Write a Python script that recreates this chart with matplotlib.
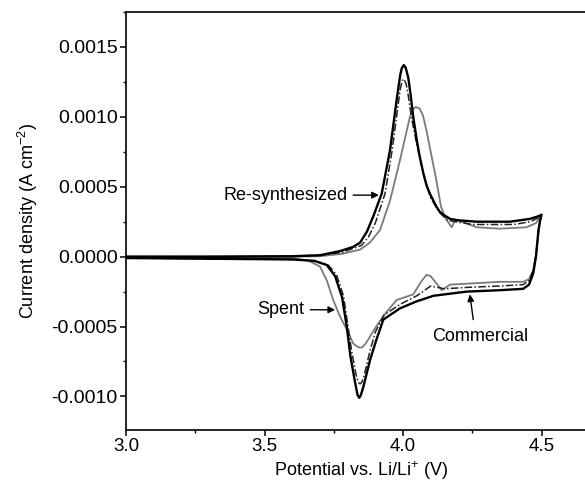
import matplotlib
matplotlib.use("Agg")
import matplotlib.pyplot as plt
from matplotlib.ticker import MultipleLocator, FormatStrFormatter

plt.rcParams['font.family'] = ['Liberation Sans', 'DejaVu Sans']
plt.rcParams['mathtext.default'] = 'regular'
plt.rcParams['axes.unicode_minus'] = False

# ---- data (potential V, current density A cm^-2) ----
# Re-synthesized: anodic sweep then cathodic sweep
resyn_an_v = [3.0, 3.3, 3.6, 3.7, 3.773, 3.82, 3.845, 3.87, 3.893, 3.923, 3.953, 3.977, 3.99, 3.996, 4.003, 4.01, 4.019, 4.028, 4.037, 4.05, 4.06, 4.073, 4.085, 4.097, 4.11, 4.12, 4.133, 4.146, 4.17, 4.2, 4.266, 4.386, 4.458, 4.49, 4.5]
resyn_an_j = [0.0, 0.0, 0.000003, 0.00001, 0.00004, 0.00007, 0.0001, 0.00018, 0.00029, 0.00045, 0.00076, 0.00112, 0.0013, 0.00135, 0.00137, 0.00135, 0.00128, 0.00115, 0.001, 0.00083, 0.00072, 0.0006, 0.00051, 0.00045, 0.0004, 0.00036, 0.00032, 0.0003, 0.00027, 0.00026, 0.00025, 0.00025, 0.00027, 0.00029, 0.0003]
resyn_ca_v = [4.5, 4.495, 4.489, 4.48, 4.47, 4.455, 4.434, 4.35, 4.23, 4.11, 4.049, 3.989, 3.929, 3.903, 3.881, 3.857, 3.848, 3.842, 3.836, 3.827, 3.81, 3.797, 3.78, 3.755, 3.725, 3.68, 3.6, 3.3, 3.0]
resyn_ca_j = [0.0003, 0.00026, 0.00019, 0.0, -0.00012, -0.0002, -0.00023, -0.00024, -0.00025, -0.00028, -0.00032, -0.00037, -0.00045, -0.0006, -0.00074, -0.00093, -0.00099, -0.00101, -0.00099, -0.0009, -0.00071, -0.0005, -0.00029, -0.00014, -0.00006, -0.00003, -0.00002, -0.000015, -0.00001]

# Commercial
comm_an_v = [3.0, 3.3, 3.6, 3.7, 3.78, 3.85, 3.875, 3.9, 3.935, 3.96, 3.98, 3.99, 3.997, 4.004, 4.012, 4.02, 4.03, 4.05, 4.075, 4.1, 4.13, 4.16, 4.25, 4.4, 4.46, 4.49, 4.5]
comm_an_j = [0.0, 0.0, 0.000003, 0.00001, 0.00003, 0.00008, 0.00014, 0.00024, 0.00045, 0.00075, 0.00105, 0.0012, 0.00126, 0.00127, 0.00123, 0.00114, 0.001, 0.0008, 0.00058, 0.00042, 0.00032, 0.00026, 0.00023, 0.00023, 0.00025, 0.00028, 0.0003]
comm_ca_v = [4.5, 4.495, 4.49, 4.48, 4.47, 4.455, 4.434, 4.35, 4.23, 4.15, 4.1, 4.05, 3.99, 3.93, 3.9, 3.88, 3.86, 3.851, 3.845, 3.839, 3.83, 3.815, 3.8, 3.785, 3.76, 3.73, 3.68, 3.6, 3.0]
comm_ca_j = [0.0003, 0.00026, 0.0002, 0.00001, -0.0001, -0.00017, -0.0002, -0.00021, -0.00022, -0.00023, -0.00021, -0.00028, -0.00034, -0.00042, -0.00054, -0.00068, -0.00085, -0.0009, -0.00091, -0.0009, -0.00084, -0.00068, -0.00048, -0.00028, -0.00013, -0.00006, -0.00003, -0.00002, -0.00001]

# Spent
spent_an_v = [3.0, 3.3, 3.6, 3.7, 3.78, 3.845, 3.88, 3.917, 3.953, 3.989, 4.025, 4.035, 4.045, 4.06, 4.072, 4.085, 4.101, 4.12, 4.137, 4.15, 4.165, 4.176, 4.185, 4.2, 4.266, 4.35, 4.446, 4.48, 4.5]
spent_an_j = [0.0, 0.0, 0.0, 0.000003, 0.00002, 0.00005, 0.0001, 0.00019, 0.0004, 0.00069, 0.001, 0.00105, 0.00107, 0.00106, 0.00101, 0.0009, 0.00074, 0.00055, 0.00036, 0.00029, 0.00024, 0.00021, 0.00025, 0.00026, 0.00021, 0.0002, 0.00021, 0.00024, 0.0003]
spent_ca_v = [4.5, 4.495, 4.49, 4.48, 4.47, 4.455, 4.434, 4.35, 4.17, 4.14, 4.12, 4.1, 4.085, 4.065, 4.037, 3.977, 3.939, 3.903, 3.866, 3.852, 3.842, 3.832, 3.82, 3.797, 3.773, 3.748, 3.725, 3.70, 3.66, 3.6, 3.0]
spent_ca_j = [0.0003, 0.00026, 0.00019, 0.00001, -0.0001, -0.00016, -0.00018, -0.00018, -0.0002, -0.00024, -0.00019, -0.00014, -0.00013, -0.00018, -0.00027, -0.00031, -0.0004, -0.0005, -0.00062, -0.00065, -0.00065, -0.00064, -0.00062, -0.00052, -0.00043, -0.00031, -0.00017, -0.00007, -0.00003, -0.00001, -0.00001]

x_ticks = [3.0, 3.5, 4.0, 4.5]
y_ticks = [-0.0010, -0.0005, 0.0, 0.0005, 0.0010, 0.0015]

fig = plt.figure(figsize=(5.85, 4.86), dpi=100)
ax = fig.add_axes([126/585, 56/486, 1.7*277/585, 418/486])

ax.plot(spent_an_v + spent_ca_v, spent_an_j + spent_ca_j, color='#7a7a7a', lw=1.3)
ax.plot(comm_an_v + comm_ca_v, comm_an_j + comm_ca_j, color='#222222', lw=1.1,
        linestyle=(0, (5, 1.5, 1, 1.5)))
ax.plot(resyn_an_v + resyn_ca_v, resyn_an_j + resyn_ca_j, color='black', lw=1.7)

ax.set_xlim(3.0, 4.7)
ax.set_ylim(-0.00124, 0.00175)
ax.set_xticks(x_ticks)
ax.set_yticks(y_ticks)
ax.xaxis.set_minor_locator(MultipleLocator(0.25))
ax.yaxis.set_minor_locator(MultipleLocator(0.00025))
ax.xaxis.set_major_formatter(FormatStrFormatter('%.1f'))
ax.yaxis.set_major_formatter(FormatStrFormatter('%.4f'))
ax.tick_params(which='major', direction='out', length=4, width=1.1, labelsize=14, pad=2)
ax.tick_params(which='minor', direction='out', length=2.5, width=1.0)
ax.tick_params(axis='x', labelsize=13.5)
for s in ax.spines.values():
    s.set_linewidth(1.2)

ax.set_xlabel('Potential vs. Li/Li$^{+}$ (V)', fontsize=13, labelpad=3)
ax.set_ylabel('Current density (A cm$^{-2}$)', fontsize=13, labelpad=8)

arrow = dict(arrowstyle='-|>', color='black', lw=1.0, mutation_scale=10)
ax.annotate('Re-synthesized', xy=(3.923, 0.00044), xytext=(3.80, 0.00044),
            ha='right', va='center', fontsize=13, arrowprops=arrow)
ax.annotate('Spent', xy=(3.765, -0.00038), xytext=(3.645, -0.00038),
            ha='right', va='center', fontsize=13, arrowprops=arrow)
ax.text(4.28, -0.000574, 'Commercial', ha='center', va='center', fontsize=13)
ax.annotate('', xy=(4.24, -0.00025), xytext=(4.255, -0.00047), arrowprops=arrow)

fig.savefig('out.png', dpi=100)
